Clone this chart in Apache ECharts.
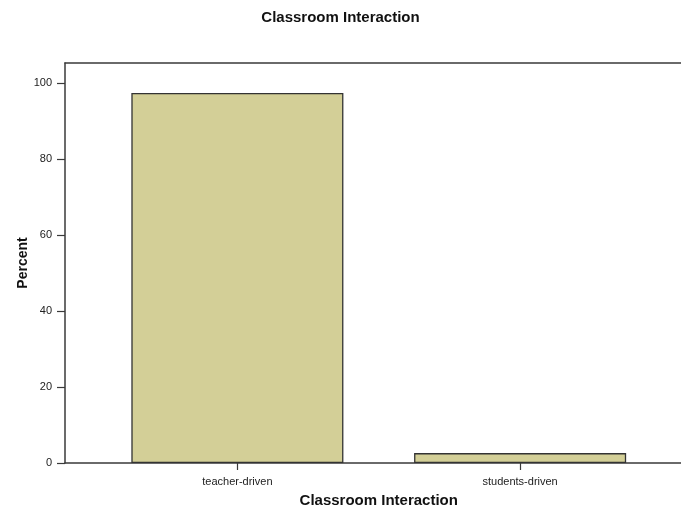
<!DOCTYPE html>
<html>
<head>
<meta charset="utf-8">
<script src="https://cdn.jsdelivr.net/npm/echarts@6/dist/echarts.min.js"></script>
<style>html,body{margin:0;padding:0;background:#fff}#c{width:681px;height:514px}</style>
</head>
<body>
<div id="c"></div>
<script>
var categories = ['teacher-driven', 'students-driven'];
var percentValues = [97.4, 2.6];
var yTickValues = [0, 20, 40, 60, 80, 100];
var titleText = 'Classroom Interaction';
var xAxisName = 'Classroom Interaction';
var yAxisName = 'Percent';

var yMax = 400 / 3.8; // frame top above 100
var lineColor = '#3a3a3a';
var font = 'Liberation Sans, Arial, sans-serif';

var chart = echarts.init(document.getElementById('c'), null, {renderer: 'canvas'});
chart.setOption({
  animation: false,
  backgroundColor: '#fff',
  title: {
    text: titleText, left: 'center', top: 5,
    textStyle: {fontFamily: font, fontSize: 15, fontWeight: 'bold', color: '#111'}
  },
  grid: [
    {left: 65, right: 0, top: 63, bottom: 51},
    {left: 96, right: 19.5, top: 63, bottom: 51}
  ],
  xAxis: [
    {gridIndex: 0, type: 'value', min: 0, max: 1, position: 'bottom',
     axisLine: {show: true, lineStyle: {color: lineColor, width: 1.5}},
     axisTick: {show: false}, axisLabel: {show: false}, splitLine: {show: false}},
    {gridIndex: 0, type: 'value', min: 0, max: 1, position: 'top',
     axisLine: {show: true, lineStyle: {color: lineColor, width: 1.5}},
     axisTick: {show: false}, axisLabel: {show: false}, splitLine: {show: false}},
    {gridIndex: 1, type: 'category', data: categories, boundaryGap: true,
     axisLine: {show: false},
     axisTick: {show: true, alignWithLabel: true, length: 7, lineStyle: {color: lineColor, width: 1.2}},
     axisLabel: {margin: 13, fontFamily: font, fontSize: 11, color: '#222'},
     name: xAxisName, nameLocation: 'middle', nameGap: 30, nameMoveOverlap: false,
     nameTextStyle: {fontFamily: font, fontSize: 15, fontWeight: 'bold', color: '#111'}}
  ],
  yAxis: [
    {gridIndex: 0, type: 'value', min: 0, max: yMax, interval: 20,
     axisLine: {show: true, lineStyle: {color: lineColor, width: 1.5}},
     axisTick: {show: true, length: 8, customValues: yTickValues, lineStyle: {color: lineColor, width: 1.2}},
     axisLabel: {margin: 13, customValues: yTickValues, fontFamily: font, fontSize: 11, color: '#222'},
     splitLine: {show: false},
     name: yAxisName, nameLocation: 'middle', nameGap: 35, nameMoveOverlap: false,
     nameTextStyle: {fontFamily: font, fontSize: 14, fontWeight: 'bold', color: '#111'}},
    {gridIndex: 1, type: 'value', min: 0, max: yMax, show: false}
  ],
  series: [{
    type: 'bar', xAxisIndex: 2, yAxisIndex: 1,
    data: percentValues, barWidth: '75%',
    itemStyle: {color: '#d3cf97', borderColor: '#333', borderWidth: 1.3}
  }]
});
</script>
</body>
</html>
